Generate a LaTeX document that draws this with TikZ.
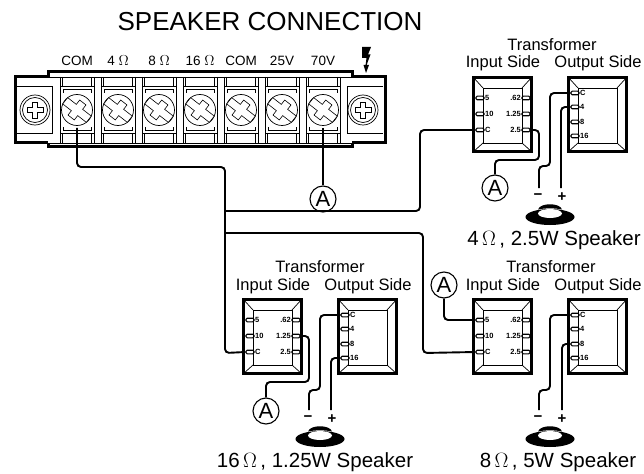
\documentclass[tikz,border=0pt]{standalone}
\usepackage{fontspec}
\setmainfont{Liberation Sans}
\usetikzlibrary{calc}
\newcommand{\fs}[1]{\fontsize{#1}{#1}\selectfont}
\tikzset{
  x=1pt,y=-1pt,
  wire/.style={line width=1.9pt,rounded corners=4pt},
  thinln/.style={line width=0.5pt},
  heavy/.style={line width=3pt,miter limit=2},
  lbl/.style={inner sep=0pt,font=\fs{13.5}},
  big/.style={inner sep=0pt,font=\fs{16.5}},
  pin/.style={inner sep=0pt,font=\fs{7.5}\bfseries},
  lug/.style={draw,line width=1.1pt,rounded corners=1.2pt,minimum width=8pt,minimum height=3.6pt,inner sep=0pt},
  meter/.style={draw,circle,line width=1.1pt,minimum size=26pt,inner sep=0pt,font=\fs{22},fill=white},
  cell/.style={draw,line width=0.9pt,minimum width=34pt,minimum height=47pt,inner sep=0pt},
  sign/.style={inner sep=0pt,font=\fs{15}\bfseries},
  spkcap/.style={inner sep=0pt,font=\fs{20.5}},
}
% terminal: #1 name, #2 x
\newcommand{\terminal}[2]{%
  \draw[thinln] (#2-17,77)--(#2-17,143) (#2+17,77)--(#2+17,143);
  \draw[thinln] (#2-14.5,77)--(#2-14.5,86) (#2+14.5,77)--(#2+14.5,86);
  \draw[thinln] (#2-14.5,133)--(#2-14.5,143) (#2+14.5,133)--(#2+14.5,143);
  \node[cell,fill=white] (#1) at (#2,110) {};
  \draw[line width=0.8pt] (#2-14,93)--(#2-14,89.5)--(#2+14,89.5)--(#2+14,93);
  \draw[line width=0.8pt] (#2-14,127)--(#2-14,130)--(#2+14,130)--(#2+14,127);
  \draw[line width=0.7pt,fill=white] (#2,110) circle (15.5);
  \draw[line width=0.6pt,fill=white,rotate around={-38:(#2,110)}]
    (#2-15,106)--(#2-4,106)--(#2-4,100.5)--(#2+4,100.5)--(#2+4,106)--(#2+15,106)
    --(#2+15,114)--(#2+4,114)--(#2+4,119.5)--(#2-4,119.5)--(#2-4,114)--(#2-15,114)--cycle;
}
\newcommand{\earscrew}[1]{%
  \draw[line width=0.7pt] (#1,110) circle (15) circle (12.5);
  \draw[line width=0.7pt] (#1-8,107.5)--(#1-2.5,107.5)--(#1-2.5,102)--(#1+2.5,102)--(#1+2.5,107.5)--(#1+8,107.5)
    --(#1+8,112.5)--(#1+2.5,112.5)--(#1+2.5,118)--(#1-2.5,118)--(#1-2.5,112.5)--(#1-8,112.5)--cycle;
}
\newcommand{\xface}[3]{% name, left, top
  \node[draw,line width=3pt,minimum width=58pt,minimum height=74pt,inner sep=0pt,outer sep=0pt] (#1) at (#2+30.5,#3+38.5) {};
  \draw[line width=0.7pt] (#2+11,#3+12) rectangle (#2+50,#3+67);
  \draw[line width=0.7pt] (#2+1,#3+1)--(#2+11,#3+12) (#2+60,#3+1)--(#2+50,#3+12)
    (#2+1,#3+76)--(#2+11,#3+67) (#2+60,#3+76)--(#2+50,#3+67);
}
\newcommand{\inputside}[3]{% name,left,top
  \xface{#1}{#2}{#3}
  \node[lug] (#1-5) at (#2+8,#3+22) {};
  \node[lug] (#1-10) at (#2+8,#3+38) {};
  \node[lug] (#1-c) at (#2+8,#3+54) {};
  \node[lug] (#1-62) at (#2+54,#3+22) {};
  \node[lug] (#1-125) at (#2+54,#3+38) {};
  \node[lug] (#1-25) at (#2+54,#3+54) {};
  \node[pin,anchor=west] (#1-t5) at (#2+13,#3+22) {5};
  \node[pin,anchor=west] (#1-t10) at (#2+13,#3+38) {10};
  \node[pin,anchor=west] (#1-tc) at (#2+13,#3+54) {C};
  \node[pin,anchor=east] (#1-t62) at (#2+49,#3+22) {.62};
  \node[pin,anchor=east] (#1-t125) at (#2+49,#3+38) {1.25};
  \node[pin,anchor=east] (#1-t25) at (#2+49,#3+54) {2.5};
}
\newcommand{\outputside}[3]{%
  \xface{#1}{#2}{#3}
  \node[lug] (#1-c) at (#2+8,#3+17) {};
  \node[lug] (#1-4) at (#2+8,#3+31) {};
  \node[lug] (#1-8) at (#2+8,#3+46) {};
  \node[lug] (#1-16) at (#2+8,#3+60) {};
  \node[pin,anchor=west] (#1-tc) at (#2+13,#3+17) {C};
  \node[pin,anchor=west] (#1-t4) at (#2+13,#3+31) {4};
  \node[pin,anchor=west] (#1-t8) at (#2+13,#3+46) {8};
  \node[pin,anchor=west] (#1-t16) at (#2+13,#3+60) {16};
}
\newcommand{\speaker}[3]{% name,x,y of disc centre
  \fill (#2-24.5,#3) arc[start angle=180,end angle=540,x radius=24.5,y radius=8];
  \fill[white] (#2,#3-3.5) ellipse[x radius=12,y radius=4.5];
  \fill (#2-12,#3-7.5) .. controls (#2-10,#3-14.5) and (#2+10,#3-14.5) .. (#2+12,#3-7.5)
     .. controls (#2+6,#3-9) and (#2-6,#3-9) .. cycle;
  \coordinate (#1) at (#2,#3);
}
\begin{document}
\begin{tikzpicture}
\useasboundingbox (0,0) rectangle (644,473);
\node[inner sep=0pt,font=\fs{26}] (title) at (270,22) {SPEAKER CONNECTION};
% block
\fill[white] (48,72) rectangle (352,147);
\draw[thinln] (48,77)--(352,77) (48,143)--(352,143);
\foreach \n/\xx in {t1/77,t2/118,t3/159,t4/200,t5/241,t6/282,t7/323}{\terminal{\n}{\xx}}
\draw[heavy] (48,77)--(48,72)--(352,72)--(352,77) (48,143)--(48,147)--(352,147)--(352,143);
\draw[heavy] (48,77)--(15,77)--(15,143)--(48,143);
\draw[heavy] (352,77)--(385,77)--(385,143)--(352,143);
\draw[thinln] (17,86)--(52,86)--(52,133)--(17,133);
\draw[thinln] (383,86)--(347,86)--(347,133)--(383,133);
\earscrew{35}\earscrew{363}
\node[lbl] (lc1) at (77,61) {COM};
\node[lbl] (l4) at (118,61) {4 $\Omega$};
\node[lbl] (l8) at (159,61) {8 $\Omega$};
\node[lbl] (l16) at (200,61) {16 $\Omega$};
\node[lbl] (lc2) at (241,61) {COM};
\node[lbl] (l25) at (282,61) {25V};
\node[lbl] (l70) at (323,61) {70V};
% lightning
\fill (362,47)--(371,47)--(368,54.5)--(370.5,54.5)--(366.6,65)--(369,65)--(366,73)--(363.5,65)--(365.6,65)--(366.5,58)--(362,58)--cycle;
% transformers
\inputside{ta}{472}{76}\outputside{tb}{567}{76}
\inputside{tc}{242}{298}\outputside{td}{337}{298}
\inputside{te}{472}{298}\outputside{tf}{567}{298}
% labels
\node[big] (h1) at (552,45) {Transformer};
\node[big] (i1) at (503,63) {Input Side};
\node[big] (o1) at (598,63) {Output Side};
\node[big] (h2) at (320,267) {Transformer};
\node[big] (i2) at (273,286) {Input Side};
\node[big] (o2) at (368,286) {Output Side};
\node[big] (h3) at (551,267) {Transformer};
\node[big] (i3) at (503,286) {Input Side};
\node[big] (o3) at (598,286) {Output Side};
% meters
\node[meter] (m0) at (323,199) {A};
\node[meter] (m1) at (495,188) {A};
\node[meter] (m2) at (266,411) {A};
\node[meter] (m3) at (444,285) {A};
% signs
\node[sign] (n1) at (538,197) {\textminus};
\node[sign] (p1) at (562,197) {+};
\node[sign] (n2) at (308,419) {\textminus};
\node[sign] (p2) at (332,419) {+};
\node[sign] (n3) at (538,419) {\textminus};
\node[sign] (p3) at (562,419) {+};
% speakers
\speaker{s1}{550}{217}
\speaker{s2}{320}{439}
\speaker{s3}{550}{439}
\node[spkcap] (c1) at (554,240) {4$\,\Omega$\,, 2.5W Speaker};
\node[spkcap] (c2) at (315,462) {16$\,\Omega$\,, 1.25W Speaker};
\node[spkcap] (c3) at (558,462) {8$\,\Omega$\,, 5W Speaker};
% common wires
\coordinate (j1) at (225,211);
\coordinate (j2) at (225,233);
\draw[wire] (t1.center) ++(0,18) -- (77,167) -- (225,167) -- (225,353) -- (tc-c.west);
\draw[wire] (j1) -- (420,211) -- (420,130) -- (ta-c.west);
\draw[wire] (j2) -- (423,233) -- (423,353) -- (te-c.west);
\draw[wire] (323,128) -- (m0.north);
% transformer 1
\draw[wire] (ta-25.east) -- (539,130) -- (539,160) -- (495,160) -- (m1.north);
\draw[wire] (tb-c.west) -- (550,93) -- (550,166) -- (539,166) -- (539,188);
\draw[wire] (tb-4.west) -- (561,107) -- (561,188);
% transformer 2
\draw[wire] (tc-125.east) -- (309,336) -- (309,382) -- (266,382) -- (m2.north);
\draw[wire] (td-c.west) -- (320,315) -- (320,390) -- (309,390) -- (309,410);
\draw[wire] (td-16.west) -- (331,358) -- (331,410);
% transformer 3
\draw[wire] (m3.south) -- (444,320) -- (te-5.west);
\draw[wire] (tf-c.west) -- (550,315) -- (550,390) -- (539,390) -- (539,410);
\draw[wire] (tf-8.west) -- (562,344) -- (562,410);
\end{tikzpicture}
\end{document}
